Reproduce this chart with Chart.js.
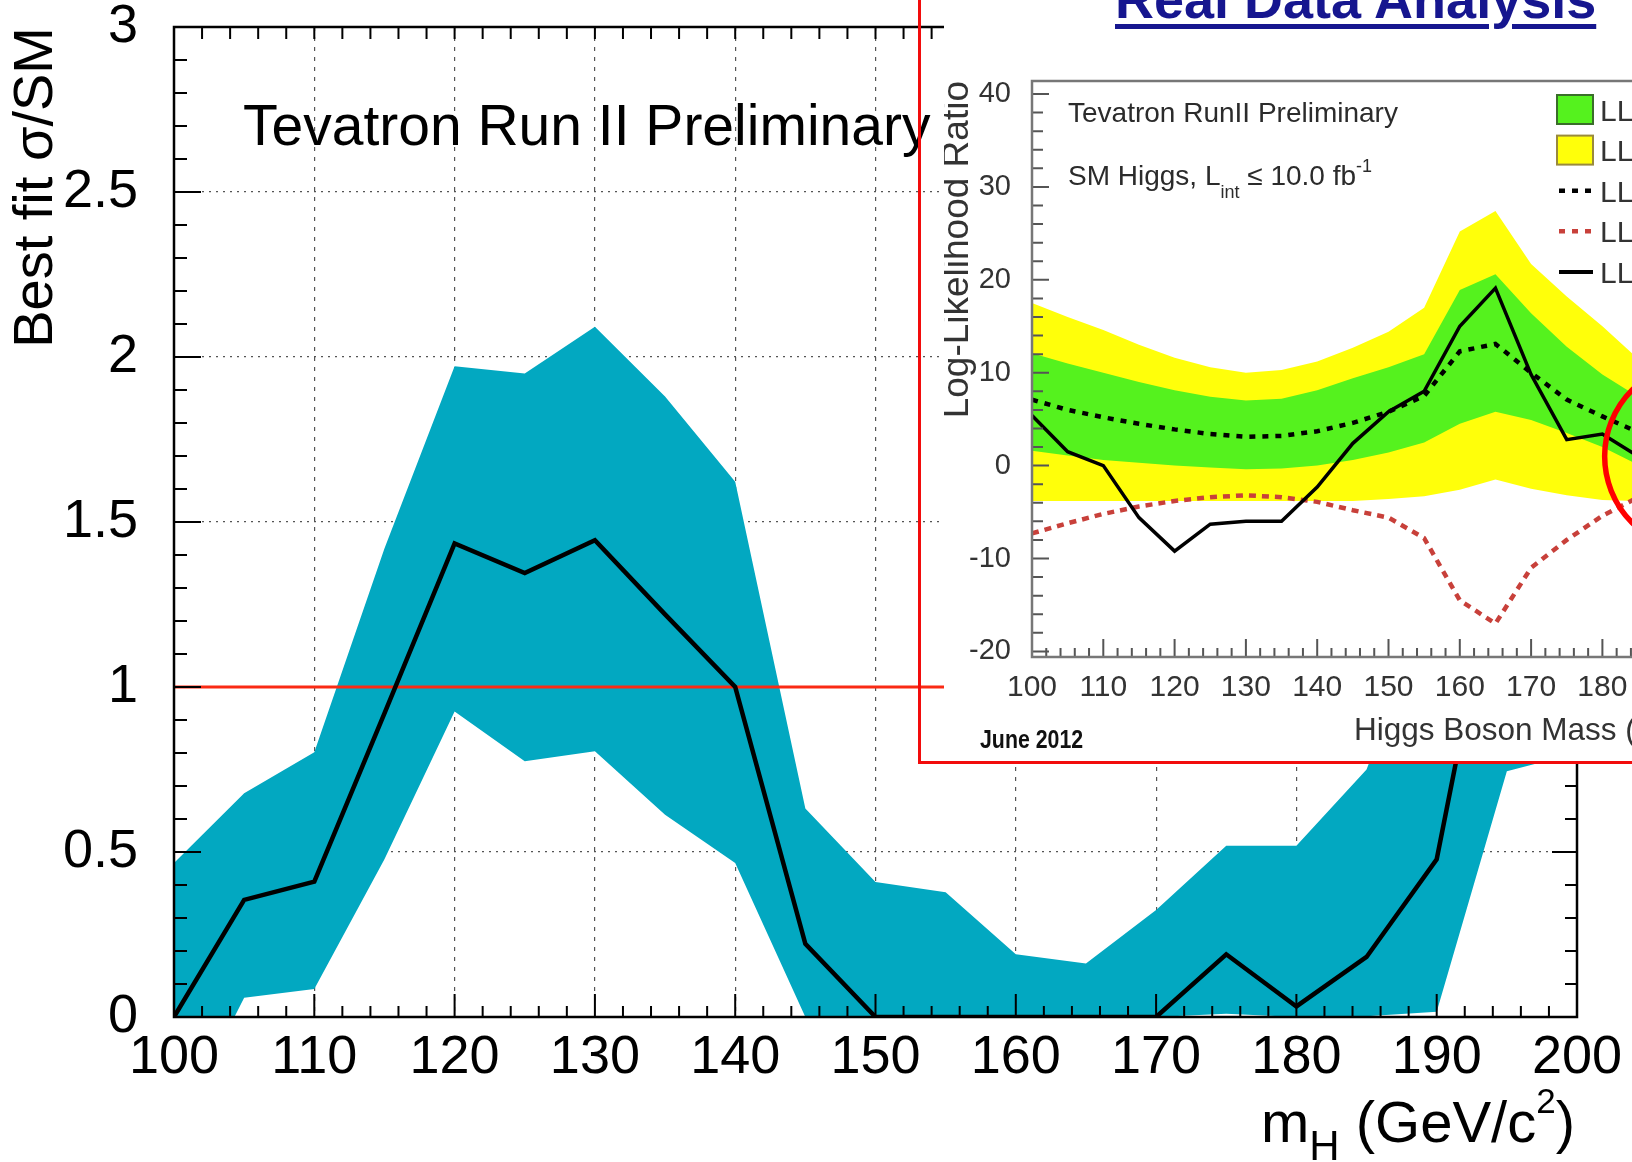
<!DOCTYPE html>
<html>
<head>
<meta charset="utf-8">
<title>Best fit σ/SM – Tevatron Run II</title>
<script src="https://cdn.jsdelivr.net/npm/chart.js@4.4.1/dist/chart.umd.min.js"></script>
<style>
  html, body { margin: 0; padding: 0; background: #fff; }
  body { position: relative; width: 1632px; height: 1162px; overflow: hidden; }
  #mainChart { position: absolute; left: 0; top: 0; }
  #insetPanel { position: absolute; left: 944px; top: 0; width: 900px; height: 761px; background: #fff; overflow: hidden; }
  #insetChart { position: absolute; left: 0; top: 0; }
  #slideTitle {
    position: absolute; left: 1115px; top: -28px; white-space: nowrap;
    font: bold 54px/54px 'Liberation Sans', Arial, sans-serif; color: #16168f;
    text-decoration: underline; text-decoration-thickness: 5px; text-underline-offset: 6px;
  }
  #redFrame { position: absolute; left: 918px; top: -20px; width: 1000px; height: 784px; border: 3px solid #f20c0c; box-sizing: border-box; }
</style>
</head>
<body>
<canvas id="mainChart" width="1632" height="1162"></canvas>
<div id="insetPanel"><canvas id="insetChart" width="880" height="761"></canvas></div>
<div id="slideTitle">Real Data Analysis</div>
<div id="redFrame"></div>
<script>
// ---- main panel: best fit signal strength ----
const massPoints = [100, 105, 110, 115, 120, 125, 130, 135, 140, 145, 150, 155, 160, 165, 170, 175, 180, 185, 190, 195, 200];
const bestFit   = [0, 0.355, 0.41, 0.92, 1.435, 1.345, 1.445, 1.22, 1.0, 0.222, 0, 0, 0, 0, 0, 0.19, 0.032, 0.182, 0.478, 1.55, 2.0];
const bandUpper = [0.467, 0.678, 0.802, 1.42, 1.972, 1.95, 2.092, 1.88, 1.622, 0.632, 0.409, 0.378, 0.19, 0.162, 0.324, 0.519, 0.519, 0.75, 1.3, 1.9, 2.4];
const bandLower = [-0.36, 0.058, 0.085, 0.478, 0.926, 0.775, 0.805, 0.613, 0.467, 0, -0.05, 0, 0, 0, 0, 0.01, 0, 0.002, 0.016, 0.745, 0.8];
const smMass  = [100, 200];
const smValue = [1, 1];

// ---- inset: log-likelihood ratio ----
const llrMass  = [100, 105, 110, 115, 120, 125, 130, 135, 140, 145, 150, 155, 160, 165, 170, 175, 180, 185];
const llrObs   = [5.4, 1.5, 0.0, -5.6, -9.2, -6.3, -6.0, -6.0, -2.3, 2.4, 5.8, 8.0, 15.0, 19.1, 9.8, 2.8, 3.4, 1.0];
const llrB     = [7.1, 6.0, 5.2, 4.5, 3.9, 3.4, 3.1, 3.2, 3.7, 4.6, 5.8, 7.5, 12.3, 13.1, 10.0, 7.1, 5.3, 3.6];
const llrSB    = [-7.3, -6.2, -5.2, -4.4, -3.8, -3.4, -3.2, -3.4, -3.9, -4.8, -5.6, -7.8, -14.5, -17.0, -11.0, -8.0, -5.4, -3.4];
const sigma1Hi = [12.1, 11.0, 10.0, 9.0, 8.1, 7.4, 7.0, 7.2, 8.1, 9.4, 10.6, 12.0, 18.9, 20.6, 16.4, 12.8, 9.8, 7.4];
const sigma1Lo = [1.6, 1.1, 0.6, 0.3, 0.0, -0.2, -0.4, -0.3, 0.0, 0.6, 1.4, 2.5, 4.5, 5.8, 4.9, 3.5, 2.0, 0.1];
const sigma2Hi = [17.5, 16.0, 14.6, 13.0, 11.6, 10.6, 10.0, 10.3, 11.2, 12.7, 14.4, 17.0, 25.2, 27.4, 21.7, 18.2, 15.0, 11.5];
const sigma2Lo = [-3.8, -3.8, -3.8, -3.8, -3.8, -3.8, -3.8, -3.8, -3.8, -3.8, -3.6, -3.3, -2.6, -1.5, -2.5, -3.2, -3.7, -3.8];
const legendLabels = [['LLR', 'B', ' ± 1 s.d.'], ['LLR', 'B', ' ± 2 s.d.'], ['LLR', 'B', ''], ['LLR', 'S+B', ''], ['LLR', 'obs', '']];
const circleMass = 193.5, circleLLR = 1.0;

const SANS = "'Liberation Sans', Arial, sans-serif";
const CYAN = '#02a8c1', GREEN = '#55f21e', YELLOW = '#ffff0a', LLR_RED = '#c8403a';

const pts = (xs, ys) => xs.map((x, i) => ({x: x, y: ys[i]}));
const plainNumber = (v) => String(+Number(v).toFixed(3));

function stepValues(min, max, step) {
    const out = [];
    const first = Math.ceil(min / step - 1e-9);
    for (let k = first; k * step <= max + 1e-9; k++) out.push(+(k * step).toFixed(6));
    return out;
}
const onStep = (v, step) => Math.abs(v / step - Math.round(v / step)) < 1e-6;

// keep the chart area exactly where the layout padding puts it
function fixSize(prop, size) {
    return (s) => {
        s[prop] = size;
        s.paddingTop = 0; s.paddingBottom = 0; s.paddingLeft = 0; s.paddingRight = 0;
    };
}

// text with sub/superscripts: parts = [text, font, dy]; squeeze < 1 narrows the glyphs
function drawRich(ctx, x, y, parts, align, color, squeeze) {
    const sx = squeeze || 1;
    let width = 0;
    parts.forEach(p => { ctx.font = p[1]; width += ctx.measureText(p[0]).width; });
    ctx.save();
    ctx.translate(align === 'right' ? x - width * sx : x, y);
    ctx.scale(sx, 1);
    ctx.fillStyle = color;
    ctx.textAlign = 'left';
    ctx.textBaseline = 'alphabetic';
    let cx = 0;
    parts.forEach(p => {
        ctx.font = p[1];
        ctx.fillText(p[0], cx, p[2] || 0);
        cx += ctx.measureText(p[0]).width;
    });
    ctx.restore();
}

// ROOT style frame with inward ticks
const rootFrame = {
    id: 'rootFrame',
    afterDraw(chart, args, o) {
        const {ctx, chartArea: a, scales: {x, y}} = chart;
        ctx.save();
        ctx.strokeStyle = o.color;
        ctx.lineWidth = o.tickWidth;
        ctx.beginPath();
        stepValues(x.min, x.max, o.xMinor).forEach(v => {
            const p = x.getPixelForValue(v);
            const major = onStep(v, o.xMajor);
            if (o.bottom) { ctx.moveTo(p, a.bottom); ctx.lineTo(p, a.bottom - o.bottom[major ? 0 : 1]); }
            if (o.top) { ctx.moveTo(p, a.top); ctx.lineTo(p, a.top + o.top[major ? 0 : 1]); }
        });
        stepValues(y.min, y.max, o.yMinor).forEach(v => {
            const p = y.getPixelForValue(v);
            const major = onStep(v, o.yMajor);
            if (o.left) { ctx.moveTo(a.left, p); ctx.lineTo(a.left + o.left[major ? 0 : 1], p); }
            if (o.right) { ctx.moveTo(a.right, p); ctx.lineTo(a.right - o.right[major ? 0 : 1], p); }
        });
        ctx.stroke();
        ctx.strokeStyle = o.frameColor;
        ctx.lineWidth = o.frameWidth;
        ctx.strokeRect(a.left, a.top, a.right - a.left, a.bottom - a.top);
        ctx.restore();
    }
};

const mainLabels = {
    id: 'mainLabels',
    afterDraw(chart) {
        const {ctx, chartArea: a} = chart;
        drawRich(ctx, a.left + 69, a.top + 118, [['Tevatron Run II Preliminary', '57px ' + SANS]], 'left', '#000');
        drawRich(ctx, a.right - 2, a.bottom + 125, [
            ['m', '58px ' + SANS],
            ['H', '42px ' + SANS, 18],
            [' (GeV/c', '58px ' + SANS],
            ['2', '35px ' + SANS, -29],
            [')', '58px ' + SANS]
        ], 'right', '#000');
    }
};

const edgeless = (ctx) => {
    const s = ctx.scale;
    return (ctx.tick.value <= s.min || ctx.tick.value >= s.max || ctx.tick.value === 1 && s.axis === 'y') ? 'rgba(0,0,0,0)' : '#555';
};

new Chart(document.getElementById('mainChart'), {
    type: 'line',
    data: {
        datasets: [
            {label: 'Best fit', data: pts(massPoints, bestFit), borderColor: '#000', borderWidth: 4.5, pointRadius: 0, order: 0},
            {label: 'SM', data: pts(smMass, smValue), borderColor: '#fa2a14', borderWidth: 3, pointRadius: 0, order: 1},
            {label: 'Band upper', data: pts(massPoints, bandUpper), borderColor: 'rgba(0,0,0,0)', borderWidth: 0,
             backgroundColor: CYAN, fill: '+1', pointRadius: 0, order: 2},
            {label: 'Band lower', data: pts(massPoints, bandLower), borderColor: 'rgba(0,0,0,0)', borderWidth: 0,
             pointRadius: 0, fill: false, order: 2}
        ]
    },
    options: {
        responsive: false,
        animation: false,
        devicePixelRatio: 1,
        layout: {padding: {top: 27, right: 55, left: 0, bottom: 0}},
        scales: {
            x: {
                type: 'linear', min: 100, max: 200, z: 1,
                afterFit: fixSize('height', 145),
                grid: {drawTicks: false, color: edgeless, lineWidth: 1.2},
                border: {display: false, dash: [4, 6]},
                ticks: {stepSize: 10, padding: 14, color: '#000', callback: plainNumber,
                        font: {family: SANS, size: 54, lineHeight: 1}}
            },
            y: {
                type: 'linear', min: 0, max: 3, z: 1,
                afterFit: fixSize('width', 174),
                grid: {drawTicks: false, color: edgeless, lineWidth: 1.2},
                border: {display: false, dash: [2, 5]},
                ticks: {stepSize: 0.5, padding: 36, color: '#000', callback: plainNumber,
                        font: {family: SANS, size: 54, lineHeight: 0.9}},
                title: {display: true, text: 'Best fit σ/SM', align: 'end', color: '#000',
                        font: {family: SANS, size: 56, lineHeight: 1}, padding: {top: 9, bottom: 0}}
            }
        },
        plugins: {
            legend: {display: false},
            tooltip: {enabled: false},
            rootFrame: {color: '#000', frameColor: '#000', tickWidth: 2, frameWidth: 2.5,
                        xMinor: 2, xMajor: 10, yMinor: 0.1, yMajor: 0.5,
                        bottom: [23, 11], top: [12, 12], left: [27, 13], right: [25, 12]}
        }
    },
    plugins: [rootFrame, mainLabels]
});

const insetLabels = {
    id: 'insetLabels',
    afterDatasetsDraw(chart) {
        const {ctx, scales: {x, y}} = chart;
        ctx.save();
        ctx.strokeStyle = '#f00';
        ctx.lineWidth = 5.5;
        ctx.beginPath();
        ctx.arc(x.getPixelForValue(circleMass), y.getPixelForValue(circleLLR), 94, 0, Math.PI * 2);
        ctx.stroke();
        ctx.restore();
    },
    afterDraw(chart) {
        const {ctx, chartArea: a} = chart;
        const grey = '#2b2b2b';
        drawRich(ctx, a.left + 36, a.top + 41, [['Tevatron RunII Preliminary', '28px ' + SANS]], 'left', grey);
        drawRich(ctx, a.left + 36, a.top + 104, [
            ['SM Higgs, L', '28px ' + SANS],
            ['int', '18px ' + SANS, 13],
            [' ≤ 10.0 fb', '28px ' + SANS],
            ['-1', '18px ' + SANS, -13]
        ], 'left', grey);
        drawRich(ctx, a.left - 52, a.bottom + 91, [['June 2012', 'bold 26px ' + SANS]], 'left', '#111', 0.82);
        drawRich(ctx, a.right, a.bottom + 83, [
            ['Higgs Boson Mass (GeV/c', '31.5px ' + SANS],
            ['2', '20px ' + SANS, -12],
            [')', '31.5px ' + SANS]
        ], 'right', '#333');

        // legend
        ctx.save();
        const x0 = a.right - 188;
        legendLabels.forEach((lab, i) => {
            const cy = a.top + 28.5 + i * 40.6;
            ctx.setLineDash([]);
            if (i < 2) {
                ctx.fillStyle = i === 0 ? GREEN : YELLOW;
                ctx.fillRect(x0, cy - 14.5, 36, 29);
                ctx.strokeStyle = i === 0 ? '#3a6e2a' : '#9a8a3c';
                ctx.lineWidth = 2;
                ctx.strokeRect(x0, cy - 14.5, 36, 29);
            } else {
                ctx.strokeStyle = i === 3 ? LLR_RED : '#000';
                ctx.lineWidth = i === 4 ? 4 : 4.5;
                if (i < 4) ctx.setLineDash([6, 7]);
                ctx.beginPath();
                ctx.moveTo(x0 + 2, cy);
                ctx.lineTo(x0 + 36, cy);
                ctx.stroke();
            }
            ctx.setLineDash([]);
            drawRich(ctx, x0 + 43, cy + 11, [
                [lab[0], '30px ' + SANS], [lab[1], '19px ' + SANS, 7], [lab[2], '30px ' + SANS]
            ], 'left', '#333');
        });
        ctx.restore();
    }
};

const lineSet = (label, data, color, width, dash, order) => ({
    label: label, data: pts(llrMass, data), borderColor: color, borderWidth: width,
    borderDash: dash, pointRadius: 0, fill: false, order: order
});
const bandSet = (label, data, color, fill, order) => ({
    label: label, data: pts(llrMass, data), borderColor: 'rgba(0,0,0,0)', borderWidth: 0,
    backgroundColor: color, fill: fill, pointRadius: 0, order: order
});

new Chart(document.getElementById('insetChart'), {
    type: 'line',
    data: {
        datasets: [
            lineSet('LLR obs', llrObs, '#000', 3.5, [], 0),
            lineSet('LLR B', llrB, '#000', 4.5, [6, 7], 1),
            lineSet('LLR S+B', llrSB, LLR_RED, 4.5, [7, 6], 2),
            bandSet('1 s.d. high', sigma1Hi, GREEN, '+1', 3),
            bandSet('1 s.d. low', sigma1Lo, GREEN, false, 3),
            bandSet('2 s.d. high', sigma2Hi, YELLOW, '+1', 4),
            bandSet('2 s.d. low', sigma2Lo, YELLOW, false, 4)
        ]
    },
    options: {
        responsive: false,
        animation: false,
        devicePixelRatio: 1,
        layout: {padding: {top: 81, right: 79, left: 0, bottom: 0}},
        scales: {
            x: {
                type: 'linear', min: 100, max: 200,
                afterFit: fixSize('height', 104),
                grid: {display: false},
                border: {display: false},
                ticks: {stepSize: 10, padding: 8, color: '#333', callback: plainNumber,
                        font: {family: SANS, size: 30, lineHeight: 1}}
            },
            y: {
                type: 'linear', min: -20.6, max: 41.4,
                afterFit: fixSize('width', 88),
                grid: {display: false},
                border: {display: false},
                ticks: {stepSize: 10, includeBounds: false, padding: 13, color: '#333', callback: plainNumber,
                        font: {family: SANS, size: 29, lineHeight: 1}},
                title: {display: true, text: 'Log-Likelihood Ratio', align: 'end', color: '#333',
                        font: {family: SANS, size: 37, lineHeight: 0.72}, padding: {top: 0, bottom: 0}}
            }
        },
        plugins: {
            legend: {display: false},
            tooltip: {enabled: false},
            rootFrame: {color: '#555', frameColor: '#777', tickWidth: 2, frameWidth: 2.5,
                        xMinor: 2, xMajor: 10, yMinor: 2, yMajor: 10,
                        bottom: [18, 9], left: [17, 11]}
        }
    },
    plugins: [rootFrame, insetLabels]
});
</script>
</body>
</html>
